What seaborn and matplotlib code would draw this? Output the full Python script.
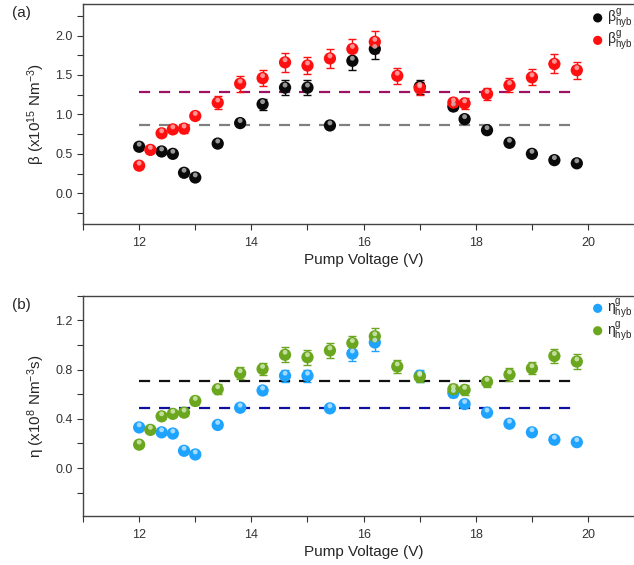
import numpy as np
import pandas as pd
import matplotlib
matplotlib.use("Agg")
import matplotlib.pyplot as plt
import matplotlib.transforms as mtransforms
from matplotlib.ticker import MultipleLocator, FormatStrFormatter
import seaborn as sns

# Datos
volt_1 = [12.0, 12.2, 12.4, 12.6, 12.8, 13.0, 13.4, 13.8, 14.2, 14.6, 15.0, 15.4,
          15.8, 16.2, 16.6, 17.0, 17.6, 17.8, 18.2, 18.6, 19.0, 19.4, 19.8]
volt_2 = [12.0, 12.4, 12.6, 12.8, 13.0, 13.4, 13.8, 14.2, 14.6, 15.0, 15.4,
          15.8, 16.2, 17.0, 17.6, 17.8, 18.2, 18.6, 19.0, 19.4, 19.8]

beta_2 = [0.59, 0.53, 0.50, 0.26, 0.20, 0.63, 0.89, 1.13, 1.34, 1.34, 0.86,
          1.68, 1.83, 1.35, 1.10, 0.94, 0.80, 0.64, 0.50, 0.42, 0.38]
beta_2_err = [0.02, 0.02, 0.02, 0.02, 0.02, 0.03, 0.04, 0.07, 0.10, 0.10, 0.02,
              0.12, 0.13, 0.09, 0.05, 0.04, 0.03, 0.03, 0.02, 0.02, 0.02]
beta_1 = [0.35, 0.55, 0.76, 0.81, 0.82, 0.98, 1.15, 1.39, 1.46, 1.66, 1.62, 1.71,
          1.83, 1.92, 1.49, 1.33, 1.15, 1.14, 1.26, 1.37, 1.47, 1.64, 1.56]
beta_1_err = [0.02, 0.02, 0.03, 0.03, 0.05, 0.04, 0.08, 0.10, 0.10, 0.12, 0.11, 0.12,
              0.13, 0.14, 0.10, 0.08, 0.06, 0.07, 0.08, 0.09, 0.10, 0.12, 0.11]
beta_2_mean = 0.86
beta_1_mean = 1.28

eta_2 = [0.33, 0.29, 0.28, 0.14, 0.11, 0.35, 0.49, 0.63, 0.75, 0.75, 0.485,
         0.93, 1.02, 0.75, 0.61, 0.52, 0.45, 0.36, 0.29, 0.23, 0.21]
eta_2_err = [0.01, 0.01, 0.01, 0.01, 0.01, 0.02, 0.02, 0.03, 0.05, 0.05, 0.01,
             0.06, 0.07, 0.05, 0.03, 0.02, 0.02, 0.02, 0.01, 0.01, 0.01]
eta_1 = [0.19, 0.31, 0.42, 0.44, 0.45, 0.545, 0.64, 0.77, 0.805, 0.92, 0.90, 0.955,
         1.015, 1.07, 0.825, 0.74, 0.64, 0.635, 0.70, 0.76, 0.81, 0.91, 0.865]
eta_1_err = [0.01, 0.01, 0.02, 0.02, 0.03, 0.03, 0.04, 0.05, 0.05, 0.06, 0.06, 0.06,
             0.06, 0.07, 0.05, 0.04, 0.04, 0.04, 0.04, 0.05, 0.05, 0.06, 0.06]
eta_2_mean = 0.485
eta_1_mean = 0.71

sns.set_style("ticks")
plt.rcParams["font.family"] = ["Liberation Sans", "DejaVu Sans"]
plt.rcParams["mathtext.fontset"] = "custom"
plt.rcParams["mathtext.rm"] = "Liberation Sans"
plt.rcParams["mathtext.it"] = "Liberation Sans:italic"
plt.rcParams["mathtext.bf"] = "Liberation Sans:bold"
plt.rcParams["mathtext.default"] = "regular"

fig = plt.figure(figsize=(6.34, 5.65), dpi=100)
ax_a = fig.add_axes([0.131, 0.6035, 0.885, 0.3894])
ax_b = fig.add_axes([0.131, 0.0867, 0.885, 0.3899])


def esferas(ax, x, y, err, color, brillo, label):
    df = pd.DataFrame({"x": x, "y": y})
    ax.errorbar(x, y, yerr=err, fmt="none", ecolor=color, elinewidth=1,
                capsize=3, capthick=1, zorder=2)
    sns.scatterplot(data=df, x="x", y="y", ax=ax, color=color, s=78,
                    edgecolor="none", label=label, zorder=3)
    off = mtransforms.offset_copy(ax.transData, fig=fig, x=0, y=1.8, units="points")
    ax.scatter(x, y, s=12, color=brillo, alpha=0.75, edgecolor="none",
               transform=off, zorder=4)


def linea_media(ax, valor, color):
    ax.hlines(valor, 12, 19.8, colors=color, linestyles=(0, (5, 4)), lw=1.6, zorder=1)


def formato(ax, ylim, major, ylabel, panel):
    ax.set_xlim(11, 21)
    ax.set_ylim(*ylim)
    ax.xaxis.set_major_locator(MultipleLocator(2))
    ax.xaxis.set_minor_locator(MultipleLocator(1))
    ax.yaxis.set_major_locator(MultipleLocator(major))
    ax.yaxis.set_minor_locator(MultipleLocator(major / 2))
    ax.yaxis.set_major_formatter(FormatStrFormatter("%.1f"))
    ax.tick_params(which="both", direction="out", length=4, width=0.8, labelsize=9,
                   colors="#333333")
    ax.tick_params(axis="x", pad=5)
    for s in ax.spines.values():
        s.set_linewidth(1)
        s.set_color("#444444")
        s.set_visible(True)
    ax.set_xlabel("Pump Voltage (V)", fontsize=11, labelpad=3)
    ax.set_ylabel(ylabel, fontsize=11, labelpad=6)
    ax.text(-0.126, 0.99, panel, transform=ax.transAxes, fontsize=11, va="top", ha="left")


# Panel (a)
esferas(ax_a, volt_2, beta_2, beta_2_err, "#0a0a0a", "#c8c8c8", r"β$^{g}_{hyb:2}$")
esferas(ax_a, volt_1, beta_1, beta_1_err, "#ff1010", "#ffc0c0", r"β$^{g}_{hyb:1}$")
linea_media(ax_a, beta_1_mean, "#9e1060")
linea_media(ax_a, beta_2_mean, "#808080")
formato(ax_a, (-0.39, 2.4), 0.5, r"β (x10$^{15}$ Nm$^{-3}$)", "(a)")

# Panel (b)
esferas(ax_b, volt_2, eta_2, eta_2_err, "#1ea3ff", "#d0ecff", r"η$^{g}_{hyb:2}$")
esferas(ax_b, volt_1, eta_1, eta_1_err, "#6aa61e", "#e0f0c8", r"η$^{g}_{hyb:1}$")
linea_media(ax_b, eta_1_mean, "#111111")
linea_media(ax_b, eta_2_mean, "#1010a0")
formato(ax_b, (-0.39, 1.4), 0.4, r"η (x10$^{8}$ Nm$^{-3}$s)", "(b)")

for ax, y0 in [(ax_a, 0.999), (ax_b, 0.485)]:
    ax.legend(loc="upper left", bbox_to_anchor=(0.923, y0), bbox_transform=fig.transFigure,
              frameon=False, fontsize=10, markerscale=0.75, handletextpad=0.2,
              handlelength=1.0, labelspacing=-0.1, borderaxespad=0)

fig.savefig("out.png", dpi=100)
